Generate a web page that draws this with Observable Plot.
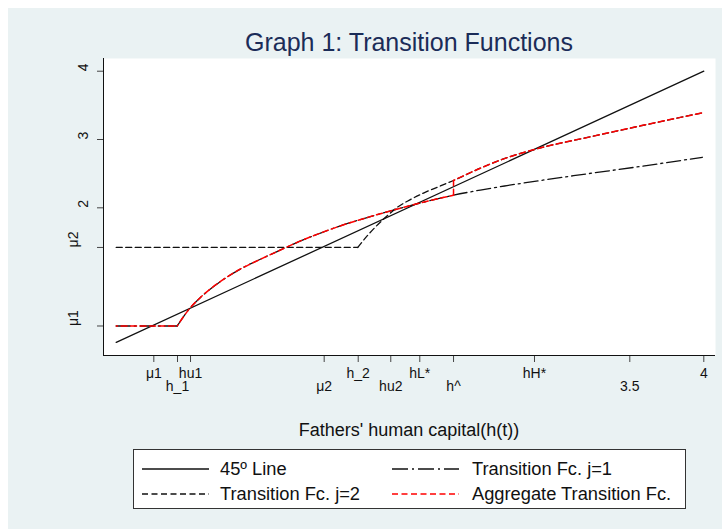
<!DOCTYPE html>
<html>
<head>
<meta charset="utf-8">
<script src="https://cdn.jsdelivr.net/npm/d3@7"></script>
<script src="https://cdn.jsdelivr.net/npm/@observablehq/plot@0.6"></script>
<style>
  body { margin: 0; background: white; }
  #wrap { position: relative; width: 722px; height: 529px; overflow: hidden; font-family: "Liberation Sans", Arial, sans-serif; }
  #bg { position: absolute; left: 8px; top: 8px; width: 714px; height: 521px; background: #EAF2F3; }
  #chart { position: absolute; left: 0; top: 0; }
  .txt { position: absolute; white-space: nowrap; }
  #title { left: 103px; width: 612px; top: 30px; text-align: center; font-size: 25px; line-height: 25px; color: #1b2c58; }
  #xlabel { left: 103px; width: 612px; top: 421px; text-align: center; font-size: 18px; line-height: 18px; color: #111; }
  #legend { position: absolute; left: 133px; top: 449px; width: 553px; height: 60px; box-sizing: border-box; background: white; border: 1px solid #333; }
  .lg-item { position: absolute; font-size: 18.3px; line-height: 18px; color: #111; white-space: nowrap; }
  .lg-item svg { position: absolute; overflow: visible; }
</style>
</head>
<body>
<div id="wrap">
  <div id="bg"></div>
  <div id="title" class="txt">Graph 1: Transition Functions</div>
  <div id="chart"></div>
  <div id="xlabel" class="txt">Fathers' human capital(h(t))</div>
  <div id="legend"></div>
</div>
<script>
// ---- data ----
const xTickVals   = [0.284, 0.444, 0.532, 1.435, 1.665, 1.885, 2.081, 2.309, 2.856, 3.5, 4];
const xTickLabels = ["μ1", "h_1", "hu1", "μ2", "h_2", "hu2", "hL*", "h^", "hH*", "3.5", "4"];
const yTickVals   = [0.27, 1.42, 2, 3, 4];
const yTickLabels = ["μ1", "μ2", "2", "3", "4"];

// 45 degree line
const diagX = [0.03, 4];
const diagY = [0.03, 4];

// Transition function j=1 (flat at mu1, then concave)
const j1X = [0.03, 0.442, 0.52, 0.60, 0.73, 0.87, 1.00, 1.14, 1.28, 1.41, 1.53, 1.73, 1.95, 2.11, 2.309, 2.49, 2.67, 3.12, 3.57, 3.99];
const j1Y = [0.27, 0.27, 0.51, 0.69, 0.915, 1.105, 1.243, 1.383, 1.52, 1.63, 1.725, 1.86, 1.995, 2.085, 2.185, 2.26, 2.325, 2.47, 2.605, 2.74];

// Transition function j=2 (flat at mu2, then concave)
const j2X = [0.03, 1.662, 1.73, 1.80, 1.87, 1.93, 2.00, 2.11, 2.22, 2.309, 2.49, 2.672, 2.874, 3.234, 3.572, 3.989];
const j2Y = [1.42, 1.42, 1.60, 1.76, 1.90, 2.01, 2.10, 2.22, 2.32, 2.40, 2.58, 2.735, 2.865, 3.04, 3.20, 3.39];

// switch point of the aggregate function (h^)
const hHat = 2.309;

const legendLabels = ["45º Line", "Transition Fc. j=1", "Transition Fc. j=2", "Aggregate Transition Fc."];

// ---- build tables ----
const pts = (xs, ys) => xs.map((x, i) => ({x, y: ys[i]}));
const diag = pts(diagX, diagY);
const j1 = pts(j1X, j1Y);
const j2 = pts(j2X, j2Y);
const j1Flat = j1.slice(0, 2), j1Rise = j1.slice(1);
const j2Flat = j2.slice(0, 2), j2Rise = j2.slice(1);
const aggRise = j1Rise.filter(d => d.x <= hHat);
const j1AtHat = j1.find(d => d.x === hHat), j2AtHat = j2.find(d => d.x === hHat);
const aggJump = [j1AtHat, j2AtHat];
const aggHigh = j2.filter(d => d.x >= hHat);

const xTicks = xTickVals.map((v, i) => ({v, label: xTickLabels[i], row: i % 2}));
const yTicks = yTickVals.map((v, i) => ({v, label: yTickLabels[i], mu: isNaN(+yTickLabels[i])}));

const xDomain = [-0.056, 4.079];
const yDomain = [-0.162, 4.186];

const SOLID = {stroke: "#111", strokeWidth: 1.3};
const DASHDOT = {stroke: "#111", strokeWidth: 1.3, strokeDasharray: "14,4,2,4"};
const DASH = {stroke: "#111", strokeWidth: 1.3, strokeDasharray: "6,3.5"};
const RED = {stroke: "#ff0000", strokeWidth: 1.5, strokeDasharray: "6,3.5", strokeDashoffset: 4.7};

const chart = Plot.plot({
  width: 722, height: 400,
  marginLeft: 103, marginRight: 7, marginTop: 58, marginBottom: 45,
  x: {domain: xDomain},
  y: {domain: yDomain},
  style: {background: "transparent", fontFamily: "'Liberation Sans', Arial, sans-serif", fontSize: "14px", color: "#111"},
  marks: [
    Plot.frame({fill: "white", stroke: "none"}),
    Plot.axisX({ticks: xTickVals, tickFormat: () => "", tickSize: 7, stroke: "#444", label: null}),
    Plot.axisY({ticks: yTickVals, tickFormat: () => "", tickSize: 6, stroke: "#444", label: null}),
    Plot.ruleX([xDomain[0]], {stroke: "#111"}),
    Plot.ruleY([yDomain[0]], {stroke: "#111"}),
    Plot.text(xTicks.filter(d => d.row === 0), {x: "v", text: "label", frameAnchor: "bottom", dy: 22, fill: "#111"}),
    Plot.text(xTicks.filter(d => d.row === 1), {x: "v", text: "label", frameAnchor: "bottom", dy: 35, fill: "#111"}),
    Plot.text(yTicks.filter(d => !d.mu), {y: "v", text: "label", frameAnchor: "left", dx: -19.5, rotate: -90, fill: "#111"}),
    Plot.text(yTicks.filter(d => d.mu), {y: "v", text: "label", frameAnchor: "left", dx: -30, rotate: -90, fill: "#111"}),
    Plot.line(diag, {x: "x", y: "y", ...SOLID}),
    Plot.line(j1Flat, {x: "x", y: "y", ...DASHDOT}),
    Plot.line(j1Rise, {x: "x", y: "y", curve: "monotone-x", ...DASHDOT}),
    Plot.line(j2Flat, {x: "x", y: "y", ...DASH}),
    Plot.line(j2Rise, {x: "x", y: "y", curve: "monotone-x", ...DASH}),
    Plot.line(j1Flat, {x: "x", y: "y", ...RED}),
    Plot.line(aggRise, {x: "x", y: "y", curve: "monotone-x", ...RED}),
    Plot.line(aggJump, {x: "x", y: "y", ...RED, strokeDashoffset: 0}),
    Plot.line(aggHigh, {x: "x", y: "y", curve: "monotone-x", ...RED})
  ]
});
document.getElementById("chart").appendChild(chart);

// ---- legend ----
const legend = document.getElementById("legend");
const styles = [
  {stroke: "#111", dash: null},
  {stroke: "#111", dash: "16,4,2,4"},
  {stroke: "#111", dash: "6,3.5"},
  {stroke: "#ff0000", dash: "6,3.5"}
];
const cols = [{line: 8, text: 86}, {line: 258, text: 338}];
const rowsTop = [10, 35];
legendLabels.forEach((lab, i) => {
  const col = i % 2, row = Math.floor(i / 2);
  const item = document.createElement("div");
  item.className = "lg-item";
  item.style.left = cols[col].line + "px";
  item.style.top = rowsTop[row] + "px";
  const s = styles[i];
  item.innerHTML = `<svg width="67" height="2" style="left:0;top:8px"><line x1="0" y1="1" x2="67" y2="1" stroke="${s.stroke}" stroke-width="1.3" ${s.dash ? `stroke-dasharray="${s.dash}"` : ""}/></svg><span style="position:absolute;left:${cols[col].text - cols[col].line}px;top:0">${lab}</span>`;
  legend.appendChild(item);
});
</script>
</body>
</html>
